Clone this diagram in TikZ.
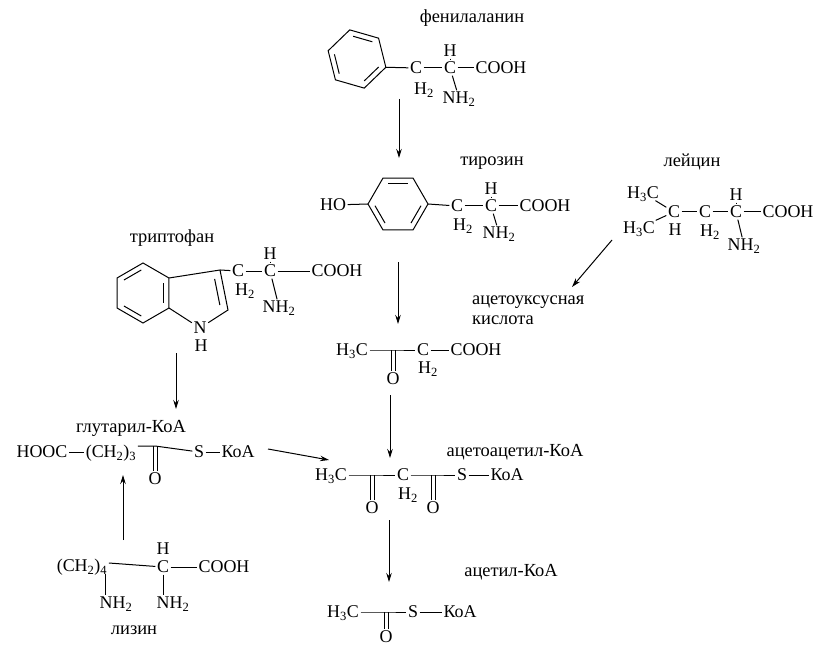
\documentclass[tikz,border=0pt]{standalone}
\usepackage{fontspec}
\setmainfont{Liberation Serif}
\usetikzlibrary{calc,arrows.meta}
\newcommand\ssb[1]{\textsubscript{#1}}
\tikzset{
  fm/.style={font=\fontsize{18}{21}\selectfont, inner sep=1.5bp, text height=11.9bp, text depth=0bp},
  lab/.style={font=\fontsize{18.5}{20}\selectfont, inner sep=0bp},
  bond/.style={line width=1bp},
  arr/.style={line width=1bp, -{Stealth[length=9bp,width=5.5bp]}},
}
\begin{document}
\begin{tikzpicture}[x=1bp,y=-1bp]
\useasboundingbox (0,0) rectangle (825,648);

% ---------- phenylalanine ----------
\node[lab] (lPhe) at (472,18) {фенилаланин};
\coordinate (phO) at (357,59);
\foreach \i/\a in {1/16,2/76,3/136,4/196,5/256,6/316}
  \coordinate (ph\i) at ($(phO)+(\a:30)$);
\draw[bond] (ph1)--(ph2)--(ph3)--(ph4)--(ph5)--(ph6)--cycle;
\draw[bond,shorten <=2bp,shorten >=2bp] ($(phO)!0.8!(ph5)$)--($(phO)!0.8!(ph6)$);
\draw[bond,shorten <=2bp,shorten >=2bp] ($(phO)!0.8!(ph1)$)--($(phO)!0.8!(ph2)$);
\draw[bond,shorten <=2bp,shorten >=2bp] ($(phO)!0.8!(ph3)$)--($(phO)!0.8!(ph4)$);
\node[fm] (phC1) at (416,68) {C};
\node[fm] (phH2) at (424,89) {H\ssb{2}};
\node[fm] (phC2) at (450,68) {C};
\node[fm] (phH) at (450,51) {H};
\node[fm] (phN) at (459,98) {NH\ssb{2}};
\node[fm] (phCOOH) at (501,68) {COOH};
\draw[bond] (ph1) -- (phC1);
\draw[bond] (phC1) -- (phC2);
\draw[bond] (phC2) -- (phCOOH);
\draw[bond] (phH) -- (phC2);
\draw[bond] (phC2) -- (phN);

% ---------- tyrosine ----------
\node[lab] (lTyr) at (492,163) {тирозин};
\coordinate (tyO) at (398,204);
\foreach \i/\a in {1/0,2/60,3/120,4/180,5/240,6/300}
  \coordinate (ty\i) at ($(tyO)+(\a:30)$);
\draw[bond] (ty1)--(ty2)--(ty3)--(ty4)--(ty5)--(ty6)--cycle;
\draw[bond,shorten <=2bp,shorten >=2bp] ($(tyO)!0.8!(ty5)$)--($(tyO)!0.8!(ty6)$);
\draw[bond,shorten <=2bp,shorten >=2bp] ($(tyO)!0.8!(ty1)$)--($(tyO)!0.8!(ty2)$);
\draw[bond,shorten <=2bp,shorten >=2bp] ($(tyO)!0.8!(ty3)$)--($(tyO)!0.8!(ty4)$);
\node[fm] (tyHO) at (333,205) {HO};
\node[fm] (tyC1) at (457,206) {C};
\node[fm] (tyH2) at (463,225) {H\ssb{2}};
\node[fm] (tyC2) at (491,206) {C};
\node[fm] (tyH) at (491,189) {H};
\node[fm] (tyN) at (499,233) {NH\ssb{2}};
\node[fm] (tyCOOH) at (545,206) {COOH};
\draw[bond] (tyHO) -- (ty4);
\draw[bond] (ty1) -- (tyC1);
\draw[bond] (tyC1) -- (tyC2);
\draw[bond] (tyC2) -- (tyCOOH);
\draw[bond] (tyH) -- (tyC2);
\draw[bond] (tyC2) -- (tyN);

% ---------- leucine ----------
\node[lab] (lLeu) at (692,162) {лейцин};
\node[fm] (leMe1) at (643,193) {H\ssb{3}C};
\node[fm] (leMe2) at (639,228) {H\ssb{3}C};
\node[fm] (leC1) at (674,212) {C};
\node[fm] (leH) at (675,230) {H};
\node[fm] (leC2) at (705,212) {C};
\node[fm] (leH2) at (710,231) {H\ssb{2}};
\node[fm] (leC3) at (736,212) {C};
\node[fm] (leHa) at (736,195) {H};
\node[fm] (leN) at (744,245) {NH\ssb{2}};
\node[fm] (leCOOH) at (788,212) {COOH};
\draw[bond] (leMe1) -- (leC1);
\draw[bond] (leMe2) -- (leC1);
\draw[bond] (leC1) -- (leC2);
\draw[bond] (leC2) -- (leC3);
\draw[bond] (leC3) -- (leCOOH);
\draw[bond] (leHa) -- (leC3);
\draw[bond] (leC3) -- (leN);

% ---------- acetoacetic acid ----------
\node[lab, align=left, anchor=west] (lAcac) at (472,310) {ацетоуксусная\\кислота};
\node[fm] (aaMe) at (352,350) {H\ssb{3}C};
\coordinate (aaK) at (393,350);
\node[fm] (aaO) at (393,379) {O};
\node[fm] (aaC) at (423,350) {C};
\node[fm] (aaH2) at (428,368) {H\ssb{2}};
\node[fm] (aaCOOH) at (476,350) {COOH};
\draw[bond] (aaMe) -- (aaK) -- (aaC);
\draw[bond] (aaC) -- (aaCOOH);
\draw[bond] ([xshift=-2bp]aaK) -- ([xshift=-2bp]aaO.north);
\draw[bond] ([xshift=2bp]aaK) -- ([xshift=2bp]aaO.north);

% ---------- tryptophan ----------
\node[lab] (lTrp) at (172,238) {триптофан};
\coordinate (tiO) at (143,293);
\foreach \i/\a in {1/30,2/90,3/150,4/210,5/270,6/330}
  \coordinate (ti\i) at ($(tiO)+(\a:30)$);
\draw[bond] (ti1)--(ti2)--(ti3)--(ti4)--(ti5)--(ti6)--cycle;
\draw[bond,shorten <=2bp,shorten >=2bp] ($(tiO)!0.8!(ti6)$)--($(tiO)!0.8!(ti1)$);
\draw[bond,shorten <=2bp,shorten >=2bp] ($(tiO)!0.8!(ti2)$)--($(tiO)!0.8!(ti3)$);
\draw[bond,shorten <=2bp,shorten >=2bp] ($(tiO)!0.8!(ti4)$)--($(tiO)!0.8!(ti5)$);
\coordinate (tpC3) at (220,270);
\coordinate (tpC2) at (228,310);
\coordinate (tpO) at (197,298);
\node[fm] (tpN) at (200,328) {N};
\node[fm] (tpNH) at (201,346) {H};
\draw[bond] (ti6) -- (tpC3) -- (tpC2) -- (tpN) -- (ti1);
\draw[bond,shorten <=2bp,shorten >=2bp] ($(tpO)!0.75!(tpC3)$)--($(tpO)!0.75!(tpC2)$);
\node[fm] (trC1) at (238,271) {C};
\node[fm] (trH2) at (245,290) {H\ssb{2}};
\node[fm] (trC2) at (270,271) {C};
\node[fm] (trH) at (270,254) {H};
\node[fm] (trN) at (279,307) {NH\ssb{2}};
\node[fm] (trCOOH) at (337,271) {COOH};
\draw[bond] (tpC3) -- (trC1);
\draw[bond] (trC1) -- (trC2);
\draw[bond] (trC2) -- (trCOOH);
\draw[bond] (trH) -- (trC2);
\draw[bond] (trC2) -- (trN);

% ---------- glutaryl-CoA ----------
\node[lab] (lGlu) at (131,428) {глутарил-КоА};
\node[fm] (guHOOC) at (42,452) {HOOC};
\node[fm] (guCH) at (111,452) {(CH\ssb{2})\ssb{3}};
\coordinate (guK) at (155,446);
\node[fm] (guO) at (155,479) {O};
\node[fm] (guS) at (199,452) {S};
\node[fm] (guKoA) at (238,452) {КоА};
\draw[bond] (guHOOC) -- (guCH);
\draw[bond] (guCH.east |- guK) -- (guK) -- (guS);
\draw[bond] (guS) -- (guKoA);
\draw[bond] ([xshift=-2bp]guK) -- ([xshift=-2bp]guO.north);
\draw[bond] ([xshift=2bp]guK) -- ([xshift=2bp]guO.north);

% ---------- acetoacetyl-CoA ----------
\node[lab] (lAacc) at (515,452) {ацетоацетил-КоА};
\node[fm] (acMe) at (331,475) {H\ssb{3}C};
\coordinate (acK1) at (372,475);
\node[fm] (acO1) at (372,508) {O};
\node[fm] (acC) at (403,475) {C};
\node[fm] (acH2) at (408,494) {H\ssb{2}};
\coordinate (acK2) at (433,475);
\node[fm] (acO2) at (433,508) {O};
\node[fm] (acS) at (462,475) {S};
\node[fm] (acKoA) at (507,475) {КоА};
\draw[bond] (acMe) -- (acK1) -- (acC);
\draw[bond] (acC) -- (acK2) -- (acS);
\draw[bond] (acS) -- (acKoA);
\draw[bond] ([xshift=-2bp]acK1) -- ([xshift=-2bp]acO1.north);
\draw[bond] ([xshift=2bp]acK1) -- ([xshift=2bp]acO1.north);
\draw[bond] ([xshift=-2bp]acK2) -- ([xshift=-2bp]acO2.north);
\draw[bond] ([xshift=2bp]acK2) -- ([xshift=2bp]acO2.north);

% ---------- acetyl-CoA ----------
\node[lab] (lAc) at (511,572) {ацетил-КоА};
\node[fm] (atMe) at (343,612) {H\ssb{3}C};
\coordinate (atK) at (386,612);
\node[fm] (atO) at (386,637) {O};
\node[fm] (atS) at (413,612) {S};
\node[fm] (atKoA) at (460,612) {КоА};
\draw[bond] (atMe) -- (atK) -- (atS);
\draw[bond] (atS) -- (atKoA);
\draw[bond] ([xshift=-2bp]atK) -- ([xshift=-2bp]atO.north);
\draw[bond] ([xshift=2bp]atK) -- ([xshift=2bp]atO.north);

% ---------- lysine ----------
\node[fm] (lyCH) at (82,566) {(CH\ssb{2})\ssb{4}};
\node[fm] (lyC) at (163,567) {C};
\node[fm] (lyH) at (163,549) {H};
\node[fm] (lyCOOH) at (224,567) {COOH};
\node[fm] (lyN1) at (116,603) {NH\ssb{2}};
\node[fm] (lyN2) at (173,603) {NH\ssb{2}};
\node[lab] (lLys) at (134,630) {лизин};
\coordinate (lyL) at (0,563);
\coordinate (lyT) at ($(lyCH.south east)+(-3bp,0)$);
\draw[bond] (lyCH.east |- lyL) -- (lyC);
\draw[bond] (lyC) -- (lyCOOH);
\draw[bond] (lyT) -- (lyT |- lyN1.north);
\draw[bond] (lyC) -- (lyC |- lyN2.north);

% ---------- arrows ----------
\coordinate (a1s) at (399,99);  \coordinate (a1e) at (399,158);
\coordinate (a2s) at (398,262); \coordinate (a2e) at (398,324);
\coordinate (a3s) at (390,395); \coordinate (a3e) at (390,458);
\coordinate (a4s) at (389,520); \coordinate (a4e) at (389,582);
\coordinate (a5s) at (612,240); \coordinate (a5e) at (572,287);
\coordinate (a6s) at (176,353); \coordinate (a6e) at (176,409);
\coordinate (a7s) at (123,540); \coordinate (a7e) at (123,475);
\coordinate (a8s) at (268,449); \coordinate (a8e) at (329,460);
\foreach \k in {1,...,8} \draw[arr] (a\k s) -- (a\k e);
\end{tikzpicture}
\end{document}
